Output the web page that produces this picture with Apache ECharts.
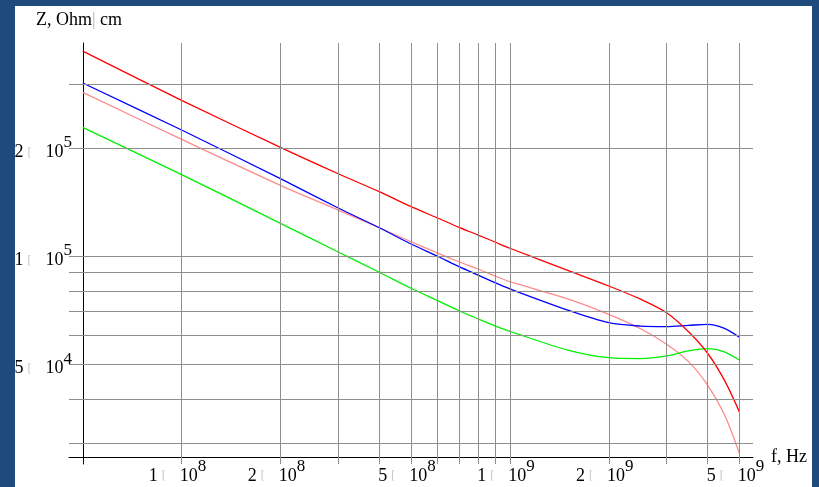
<!DOCTYPE html>
<html>
<head>
<meta charset="utf-8">
<script src="https://cdn.jsdelivr.net/npm/echarts@6/dist/echarts.min.js"></script>
<style>
  html, body { margin: 0; padding: 0; width: 819px; height: 487px; background: #1f4a7c; overflow: hidden; }
  #chart { position: absolute; left: 15px; top: 6px; width: 797px; height: 481px; background: #ffffff; }
</style>
</head>
<body>
<div id="chart"></div>
<script>
// Impedance spectra, log-log
const FONT = 'Liberation Serif';

const freqHz = [5e7, 1e8, 2e8, 3e8, 4e8, 5e8, 6e8, 7e8, 8e8, 9e8, 1e9, 1.5e9, 2e9, 2.5e9, 3e9, 3.5e9, 4e9, 4.5e9, 5e9];
const zRed   = [3.72e5, 2.715e5, 2.008e5, 1.695e5, 1.511e5, 1.372e5, 1.278e5, 1.202e5, 1.144e5, 1.094e5, 1.051e5, 9.12e4, 8.25e4, 7.58e4, 6.95e4, 6.15e4, 5.36e4, 4.51e4, 3.68e4];
const zPink  = [2.858e5, 2.114e5, 1.574e5, 1.343e5, 1.199e5, 1.096e5, 1.021e5, 9.64e4, 9.2e4, 8.8e4, 8.48e4, 7.6e4, 6.88e4, 6.27e4, 5.68e4, 5.08e4, 4.37e4, 3.62e4, 2.82e4];
const zBlue  = [3.033e5, 2.244e5, 1.642e5, 1.361e5, 1.199e5, 1.08e5, 1.0e5, 9.34e4, 8.85e4, 8.43e4, 8.1e4, 7.07e4, 6.52e4, 6.38e4, 6.36e4, 6.41e4, 6.45e4, 6.29e4, 5.94e4];
const zGreen = [2.283e5, 1.685e5, 1.233e5, 1.026e5, 9.01e4, 8.13e4, 7.52e4, 7.04e4, 6.68e4, 6.39e4, 6.17e4, 5.47e4, 5.21e4, 5.18e4, 5.27e4, 5.44e4, 5.52e4, 5.41e4, 5.13e4];

// grid lines and tick marks
const xGridValues = [1e8, 2e8, 3e8, 4e8, 5e8, 6e8, 7e8, 8e8, 9e8, 1e9, 2e9, 3e9, 4e9, 5e9];
const yGridValues = [3e4, 4e4, 5e4, 6e4, 7e4, 8e4, 9e4, 1e5, 2e5, 3e5];
const xLabelValues = [1e8, 2e8, 5e8, 1e9, 2e9, 5e9];
const yLabelValues = [5e4, 1e5, 2e5];
const xMinorTicks = xGridValues.filter(v => xLabelValues.indexOf(v) < 0);
const yMinorTicks = yGridValues.filter(v => yLabelValues.indexOf(v) < 0);

const xRange = [4.54e7, 5.5e9];
const yRange = [2.634e4, 3.921e5];

function sci(v) {
  const e = Math.floor(Math.log10(v) + 1e-9);
  const m = Math.round(v / Math.pow(10, e));
  return '{n|' + m + '}{x|[}{n|10}{s|' + e + '}';
}

const rich = {
  n: { fontFamily: FONT, fontSize: 18, color: '#000', lineHeight: 27, padding: [9, 0, 0, 0], verticalAlign: 'top' },
  x: { fontFamily: FONT, fontSize: 12, color: '#c4c4c4', lineHeight: 27, padding: [12, 14, 0, 4], verticalAlign: 'top' },
  s: { fontFamily: FONT, fontSize: 17, color: '#000', lineHeight: 27, padding: [0, 0, 0, 0], verticalAlign: 'top' }
};

const GRID_COLOR = '#8e8e8e';

function curve(name, z, color) {
  return {
    name: name,
    type: 'line',
    xAxisIndex: 0, yAxisIndex: 0,
    data: freqHz.map((f, i) => [f, z[i]]),
    showSymbol: false,
    smooth: 0.3,
    z: 3,
    lineStyle: { width: 1.3, color: color },
    emphasis: { disabled: true }
  };
}

const chart = echarts.init(document.getElementById('chart'), null, { renderer: 'canvas' });
chart.setOption({
  animation: false,
  backgroundColor: '#ffffff',
  textStyle: { fontFamily: FONT },
  grid: { left: 54, right: 59, top: 37, bottom: 23, containLabel: false, outerBoundsMode: 'none' },
  xAxis: [
    {
      type: 'log', logBase: 10, min: xRange[0], max: xRange[1], offset: -7,
      name: 'f, Hz', nameLocation: 'end', nameGap: 18,
      nameTextStyle: { fontFamily: FONT, fontSize: 18, color: '#000', verticalAlign: 'middle', padding: [11, 0, 0, 0] },
      axisLine: { show: true, lineStyle: { color: '#000', width: 1 } },
      axisTick: { show: true, inside: true, length: 8, lineStyle: { color: '#000', width: 1 }, customValues: xLabelValues },
      axisLabel: { show: true, margin: 1, customValues: xLabelValues, formatter: sci, rich: rich, padding: [0, 8, 0, 0] },
      splitLine: { show: false },
      minorTick: { show: false }
    },
    {
      type: 'log', logBase: 10, min: xRange[0], max: xRange[1], offset: -7,
      axisLine: { show: false },
      axisTick: { show: true, inside: true, length: 3, lineStyle: { color: '#000', width: 1 }, customValues: xMinorTicks },
      axisLabel: { show: false },
      splitLine: { show: false }
    }
  ],
  yAxis: [
    {
      type: 'log', logBase: 10, min: yRange[0], max: yRange[1], offset: -14,
      name: '{n|Z, Ohm}{b||}{n| cm}', nameLocation: 'end', nameGap: 14,
      nameTextStyle: {
        fontFamily: FONT, fontSize: 18, color: '#000', align: 'center', padding: [0, 8, 0, 0],
        rich: {
          n: { fontFamily: FONT, fontSize: 18, color: '#000' },
          b: { fontFamily: FONT, fontSize: 18, color: '#b0b0b0' }
        }
      },
      axisLine: { show: true, lineStyle: { color: '#000', width: 1 } },
      axisTick: { show: true, inside: true, length: 8, lineStyle: { color: '#000', width: 1 }, customValues: yLabelValues },
      axisLabel: { show: true, margin: 11, customValues: yLabelValues, formatter: sci, rich: rich },
      splitLine: { show: false }
    },
    {
      type: 'log', logBase: 10, min: yRange[0], max: yRange[1], offset: -14,
      axisLine: { show: false },
      axisTick: { show: true, inside: true, length: 3, lineStyle: { color: '#000', width: 1 }, customValues: yMinorTicks },
      axisLabel: { show: false },
      splitLine: { show: false }
    }
  ],
  series: [
    {
      name: 'grid',
      type: 'line',
      data: [],
      z: 1,
      silent: true,
      markLine: {
        silent: true,
        symbol: 'none',
        label: { show: false },
        emphasis: { disabled: true },
        lineStyle: { type: 'solid', color: GRID_COLOR, width: 1 },
        data: xGridValues.map(v => ({ xAxis: v })).concat(yGridValues.map(v => ({ yAxis: v })))
      }
    },
    curve('pink', zPink, '#ff8a8a'),
    curve('green', zGreen, '#00f000'),
    curve('blue', zBlue, '#0000ff'),
    curve('red', zRed, '#ff0000')
  ]
});
</script>
</body>
</html>
